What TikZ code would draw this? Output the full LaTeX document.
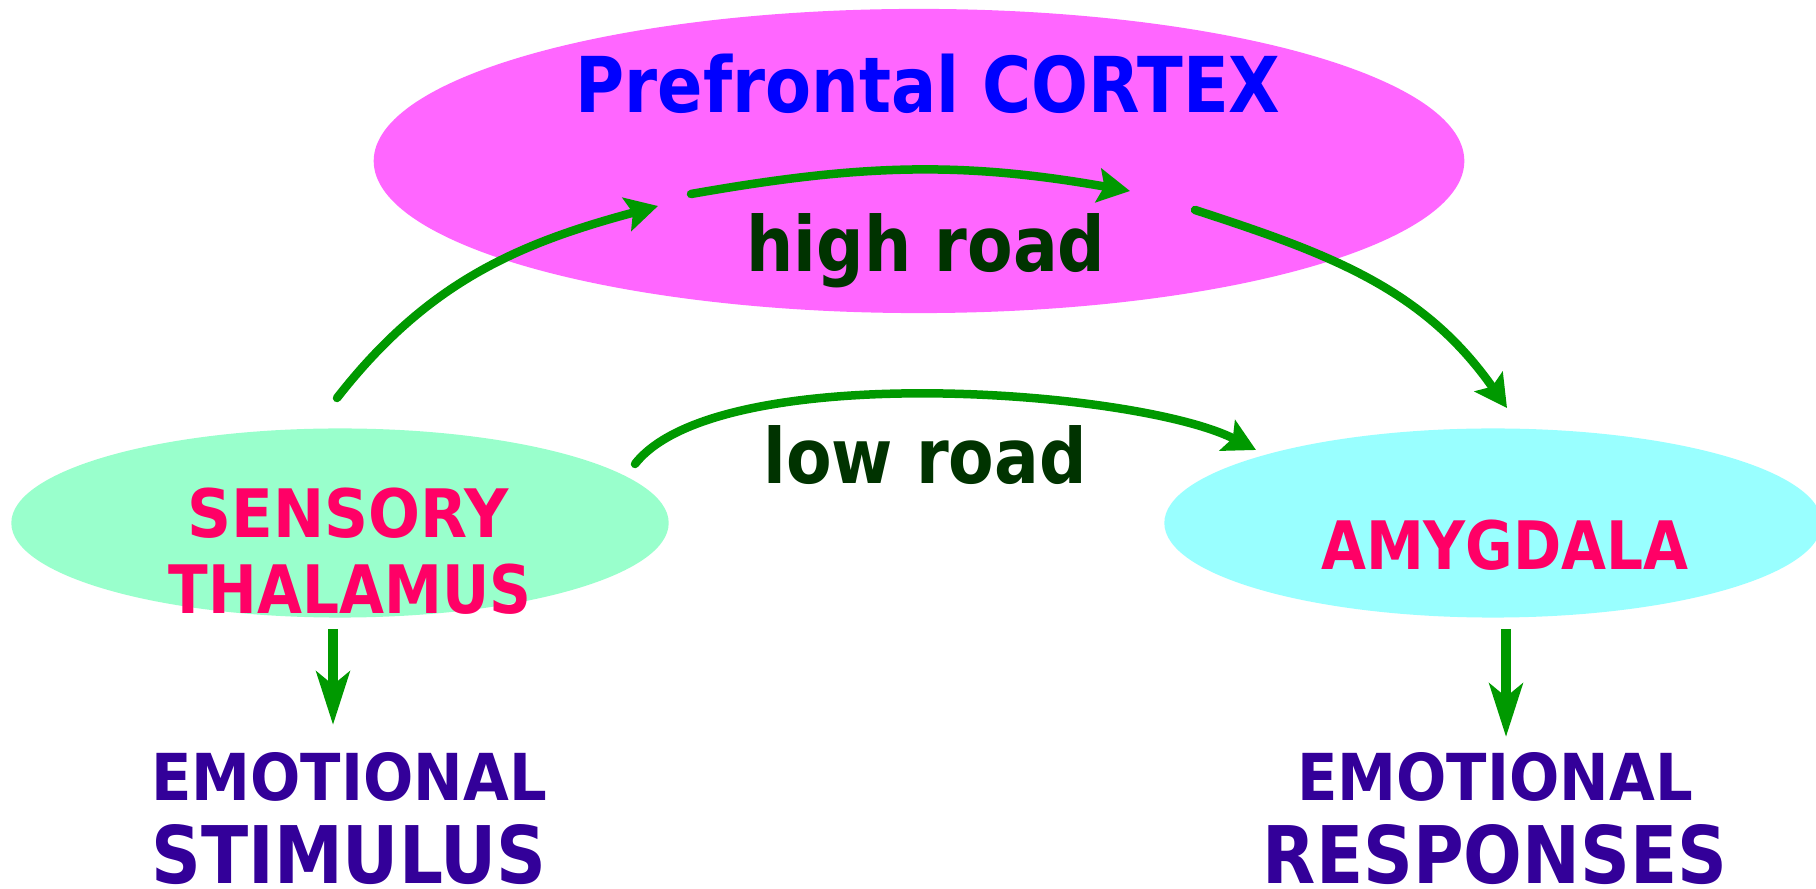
\documentclass[tikz,border=0pt]{standalone}
\usepackage{fontspec}
\setmainfont{DejaVu Sans}[FakeStretch=0.87]
\newfontfamily\widerfont{DejaVu Sans}[FakeStretch=0.915]
\usepackage{tikz}
\usetikzlibrary{arrows.meta}
\usetikzlibrary{shapes.geometric}
\definecolor{cortexpink}{HTML}{FF66FF}
\definecolor{thalmint}{HTML}{99FFCC}
\definecolor{amycyan}{HTML}{99FFFF}
\definecolor{roadgreen}{HTML}{009900}
\definecolor{roaddark}{HTML}{003300}
\definecolor{titleblue}{HTML}{0000FF}
\definecolor{partpink}{HTML}{FF0066}
\definecolor{emopurple}{HTML}{330099}
\tikzstyle{area}=[ellipse,draw=none,inner sep=0pt]

\begin{document}
\begin{tikzpicture}[x=0.01cm,y=0.01cm]
	\tikzstyle{road}=[line width=0.85mm,draw=roadgreen,line cap=round,-{Stealth[length=3.2mm,width=3.4mm,inset=0.6mm]}]
	\tikzstyle{drop}=[line width=1mm,draw=roadgreen,-{Stealth[length=5.3mm,width=3.3mm,inset=1.3mm]}]
	\tikzstyle{roadtext}=[anchor=base,inner sep=0pt,text=roaddark,font=\fontsize{21.7}{24}\selectfont\bfseries]
	\tikzstyle{parttext}=[anchor=base,inner sep=0pt,text=partpink,font=\fontsize{19}{22}\selectfont\bfseries]
	\tikzstyle{emotext}=[anchor=base,inner sep=0pt,text=emopurple,font=\fontsize{18.4}{22}\selectfont\widerfont\bfseries]
	\tikzstyle{bigtext}=[anchor=base,inner sep=0pt,text=emopurple,font=\fontsize{22.6}{26}\selectfont\bfseries]
	\useasboundingbox (0,0) rectangle (1816,-889);
	% brain areas
	\node [area,fill=cortexpink,minimum width=10.9cm,minimum height=3.04cm] (cortex) at (919,-161) {};
	\node [area,fill=thalmint,minimum width=6.57cm,minimum height=1.89cm] (thalamus) at (340,-523) {};
	\node [area,fill=amycyan,minimum width=6.57cm,minimum height=1.89cm] (amygdala) at (1493,-523) {};
	% texts
	\node [anchor=base,inner sep=0pt,text=titleblue,font=\fontsize{21.9}{26}\selectfont\bfseries] (cortex-name) at (928,-113) {Prefrontal CORTEX};
	\node [roadtext] (high) at (926,-272) {high road};
	\node [roadtext] (low) at (925,-484) {low road};
	\node [parttext,font=\fontsize{19}{22}\selectfont\widerfont\bfseries] (sensory) at (348,-538) {SENSORY};
	\node [parttext] (thal-name) at (350,-614) {THALAMUS};
	\node [parttext] (amy-name) at (1505,-570) {AMYGDALA};
	\node [emotext] (emo-left) at (349,-800) {EMOTIONAL};
	\node [bigtext] (stimulus) at (349,-883) {STIMULUS};
	\node [emotext] (emo-right) at (1495,-800) {EMOTIONAL};
	\node [bigtext] (responses) at (1495,-883) {RESPONSES};
	% road ends
	\coordinate (up-start) at (337,-398);
	\coordinate (up-end) at (658,-206);
	\coordinate (top-start) at (691,-194);
	\coordinate (top-end) at (1130,-191);
	\coordinate (down-start) at (1195,-210);
	\coordinate (down-end) at (1507,-408);
	\coordinate (low-start) at (635,-464);
	\coordinate (low-end) at (1256,-450);
	\coordinate (stim-top) at (333,-629);
	\coordinate (stim-tip) at (333,-725);
	\coordinate (resp-top) at (1506,-629);
	\coordinate (resp-tip) at (1506,-737);
	% roads
	\draw [road] (up-start) to[out=52,in=195] (up-end);
	\draw [road] (top-start) to[out=10,in=170] (top-end);
	\draw [road] (down-start) to[out=-18,in=125] (down-end);
	\draw [road] (low-start) to[out=52,in=153,looseness=0.55] (low-end);
	\draw [drop] (stim-top) -- (stim-tip);
	\draw [drop] (resp-top) -- (resp-tip);
\end{tikzpicture}
\end{document}
